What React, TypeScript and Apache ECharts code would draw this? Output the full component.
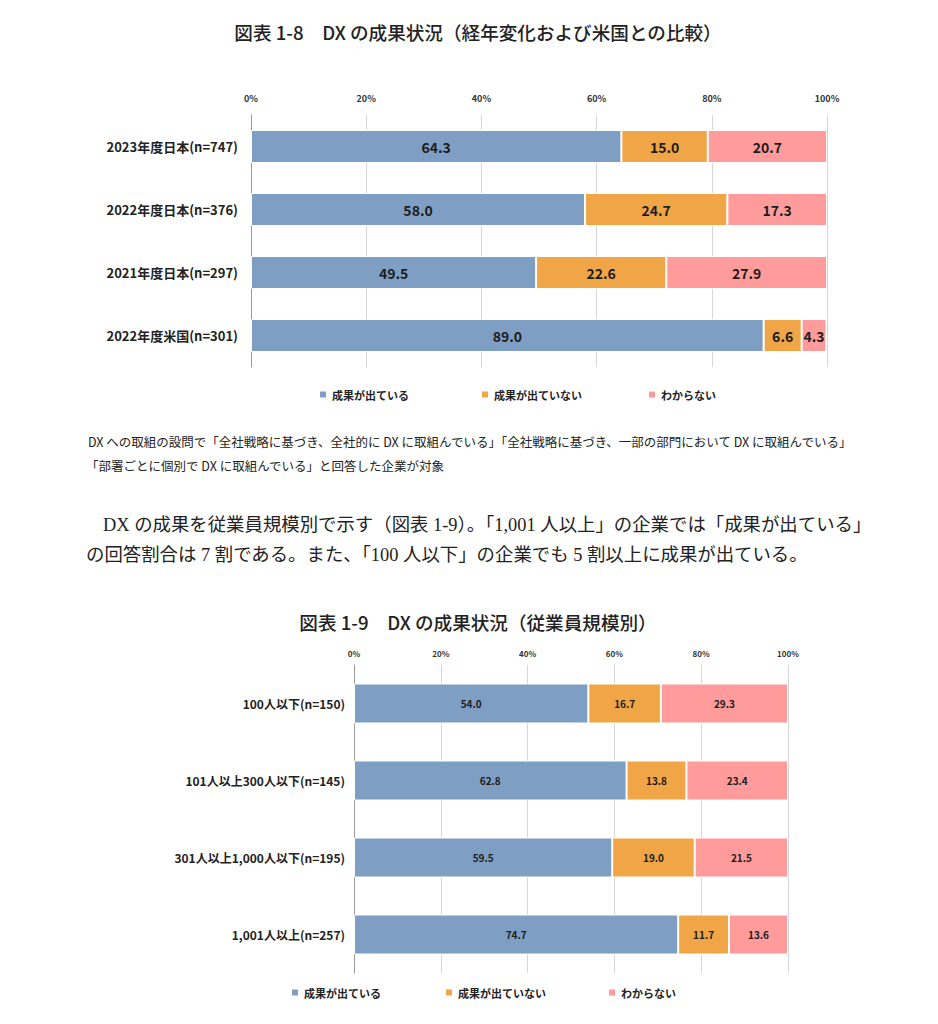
import React, { useEffect, useRef } from "react";
import * as echarts from "echarts";

const seriesNames = ["成果が出ている", "成果が出ていない", "わからない"];
const colors = ["#7f9ec3", "#f0a546", "#ff9b9b"];

const categories1 = ["2023年度日本(n=747)", "2022年度日本(n=376)", "2021年度日本(n=297)", "2022年度米国(n=301)"];
const yes1 = [64.3, 58.0, 49.5, 89.0];
const no1 = [15.0, 24.7, 22.6, 6.6];
const unk1 = [20.7, 17.3, 27.9, 4.3];

const categories2 = ["100人以下(n=150)", "101人以上300人以下(n=145)", "301人以上1,000人以下(n=195)", "1,001人以上(n=257)"];
const yes2 = [54.0, 62.8, 59.5, 74.7];
const no2 = [16.7, 13.8, 19.0, 11.7];
const unk2 = [29.3, 23.4, 21.5, 13.6];

const title1 = "図表 1-8　DX の成果状況（経年変化および米国との比較）";
const title2 = "図表 1-9　DX の成果状況（従業員規模別）";
const note1 = "DX への取組の設問で「全社戦略に基づき、全社的に DX に取組んでいる」「全社戦略に基づき、一部の部門において DX に取組んでいる」";
const note2 = "「部署ごとに個別で DX に取組んでいる」と回答した企業が対象";
const para1 = "DX の成果を従業員規模別で示す（図表 1-9）。「1,001 人以上」の企業では「成果が出ている」";
const para2 = "の回答割合は 7 割である。また、「100 人以下」の企業でも 5 割以上に成果が出ている。";

const gothic = "'Noto Sans CJK JP', 'Noto Sans', sans-serif";
const serif = "'Liberation Serif', 'Noto Sans CJK JP', serif";

export default function App() {
  const ref = useRef<HTMLDivElement>(null);
  useEffect(() => {
    if (!ref.current) return;
    const chart = echarts.init(ref.current, null, { renderer: "svg" });

    const mkSeries = (data: number[], idx: number, axis: number, fs: number) => ({
      name: seriesNames[idx],
      type: "bar",
      stack: "s" + axis,
      xAxisIndex: axis,
      yAxisIndex: axis,
      barWidth: axis === 0 ? 33 : 40,
      data,
      itemStyle: { color: colors[idx], borderColor: "#ffffff", borderWidth: 1 },
      label: {
        show: true,
        position: "inside",
        formatter: (p: any) => Number(p.value).toFixed(1),
        fontFamily: gothic,
        fontWeight: "bold",
        fontSize: fs,
        color: "#1c1c1c",
      },
    });

    const xAxisCfg = (gi: number, fs: number) => ({
      gridIndex: gi,
      type: "value",
      position: "top",
      min: 0,
      max: 100,
      interval: 20,
      axisLine: { show: false },
      axisTick: { show: false },
      axisLabel: { formatter: "{value}%", fontSize: fs, fontWeight: "bold", color: "#333", fontFamily: gothic, margin: gi === 0 ? 12 : 8 },
      splitLine: { show: true, lineStyle: { color: "#d6d6d6", width: 1 } },
    });

    const yAxisCfg = (gi: number, cats: string[], fs: number, margin: number) => ({
      gridIndex: gi,
      type: "category",
      inverse: true,
      data: cats,
      axisLine: { show: true, lineStyle: { color: "#9a9a9a", width: 1 } },
      axisTick: { show: false },
      axisLabel: { fontSize: fs, fontWeight: "bold", color: "#222", fontFamily: gothic, margin },
    });

    const legendAt = (name: string, left: number, top: number, fs: number) => ({
      data: [name],
      left,
      top,
      padding: 0,
      itemWidth: 8,
      itemHeight: 8,
      itemGap: 4,
      icon: "rect",
      selectedMode: false,
      textStyle: { fontSize: fs, fontWeight: "bold", color: "#222", fontFamily: gothic },
    });

    chart.setOption({
      animation: false,
      backgroundColor: "#ffffff",
      grid: [
        { left: 251, width: 576, top: 115, height: 252 },
        { left: 354, width: 434, top: 665, height: 308 },
      ],
      xAxis: [xAxisCfg(0, 9), xAxisCfg(1, 8)],
      yAxis: [yAxisCfg(0, categories1, 13, 13), yAxisCfg(1, categories2, 12, 9)],
      legend: [
        legendAt(seriesNames[0], 318, 389, 11),
        legendAt(seriesNames[1], 480, 389, 11),
        legendAt(seriesNames[2], 647, 389, 11),
        legendAt(seriesNames[0], 290, 987, 11),
        legendAt(seriesNames[1], 444, 987, 11),
        legendAt(seriesNames[2], 607, 987, 11),
      ],
      series: [
        mkSeries(yes1, 0, 0, 14),
        mkSeries(no1, 1, 0, 14),
        mkSeries(unk1, 2, 0, 14),
        mkSeries(yes2, 0, 1, 10),
        mkSeries(no2, 1, 1, 10),
        mkSeries(unk2, 2, 1, 10),
      ],
      graphic: [
        { type: "text", x: 478, y: 22, style: { text: title1, font: `500 18.6px ${gothic}`, fill: "#222", align: "center" } },
        { type: "text", left: 88, top: 435, style: { text: note1, font: `12.5px ${gothic}`, fill: "#222" } },
        { type: "text", left: 86, top: 459, style: { text: note2, font: `12.5px ${gothic}`, fill: "#222" } },
        { type: "text", left: 103, top: 516, style: { text: para1, font: `18.4px ${serif}`, fill: "#222" } },
        { type: "text", left: 86, top: 546, style: { text: para2, font: `18.4px ${serif}`, fill: "#222" } },
        { type: "text", x: 478, y: 612, style: { text: title2, font: `500 18.6px ${gothic}`, fill: "#222", align: "center" } },
      ],
    });
    return () => chart.dispose();
  }, []);
  return <div ref={ref} style={{ position: "absolute", left: 0, top: 0, width: 938, height: 1024 }} />;
}
